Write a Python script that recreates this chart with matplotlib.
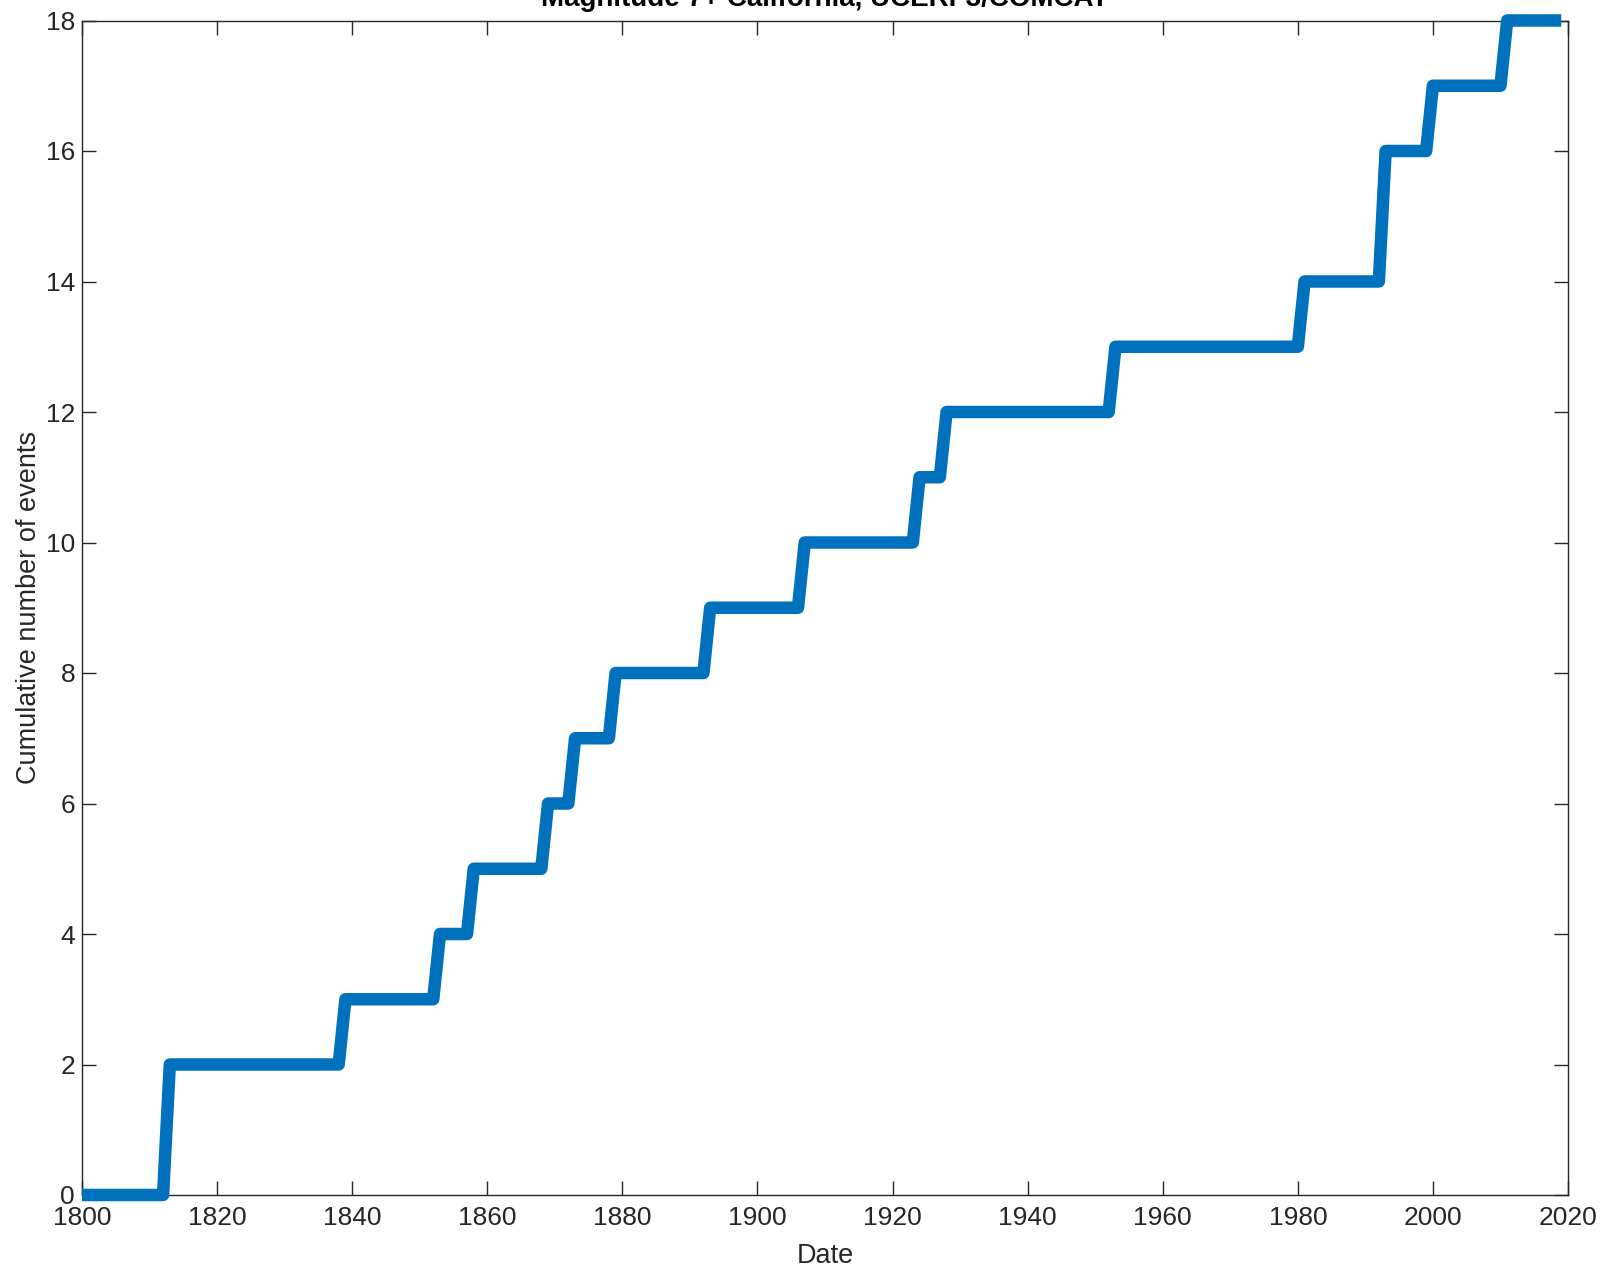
import matplotlib
matplotlib.use("Agg")
import matplotlib.pyplot as plt

# Data: years of M7+ events (step positions) and cumulative counts after each step
step_years = [1812, 1838, 1852, 1857, 1868, 1872, 1878, 1892, 1906, 1923, 1927,
              1952, 1980, 1992, 1999, 2010]
cum_counts = [2, 3, 4, 5, 6, 7, 8, 9, 10, 11, 12, 13, 14, 16, 17, 18]
start_year = 1800
end_year = 2019
x_ticks = [1800, 1820, 1840, 1860, 1880, 1900, 1920, 1940, 1960, 1980, 2000, 2020]
y_ticks = [0, 2, 4, 6, 8, 10, 12, 14, 16, 18]

# Build yearly-sampled step vertices (each rise spans one sampling year)
xs = [start_year]
ys = [0]
prev = 0
for yr, c in zip(step_years, cum_counts):
    xs += [yr, yr + 1]
    ys += [prev, c]
    prev = c
xs.append(end_year)
ys.append(prev)

plt.rcParams['font.family'] = ['Liberation Sans', 'DejaVu Sans']
dark = '#262626'

fig = plt.figure(figsize=(16.18, 12.67), dpi=100)
ax = fig.add_axes([82 / 1618, 1 - 1195 / 1267, (1568 - 82) / 1618, (1195 - 20.5) / 1267])

ax.plot(xs, ys, color='#0072BD', linewidth=9.0, solid_joinstyle='round',
        solid_capstyle='butt', clip_on=False, zorder=3)

ax.set_xlim(1800, 2020)
ax.set_ylim(0, 18)
ax.set_xticks(x_ticks)
ax.set_yticks(y_ticks)
ax.tick_params(direction='in', length=10, width=1.0, colors=dark, labelsize=19,
               top=True, right=True, labelcolor=dark)
ax.tick_params(axis='x', pad=8)
ax.tick_params(axis='y', pad=5)
for s in ax.spines.values():
    s.set_color(dark)
    s.set_linewidth(1.0)

ax.set_xlabel('Date', fontsize=19.5, color=dark, labelpad=9)
ax.set_ylabel('Cumulative number of events', fontsize=19.5, color=dark, labelpad=3)
ax.set_title('Magnitude 7+ California, UCERF3/COMCAT', fontsize=20,
             fontweight='bold', color='black', pad=10.5)

fig.savefig('out.png', dpi=100)
